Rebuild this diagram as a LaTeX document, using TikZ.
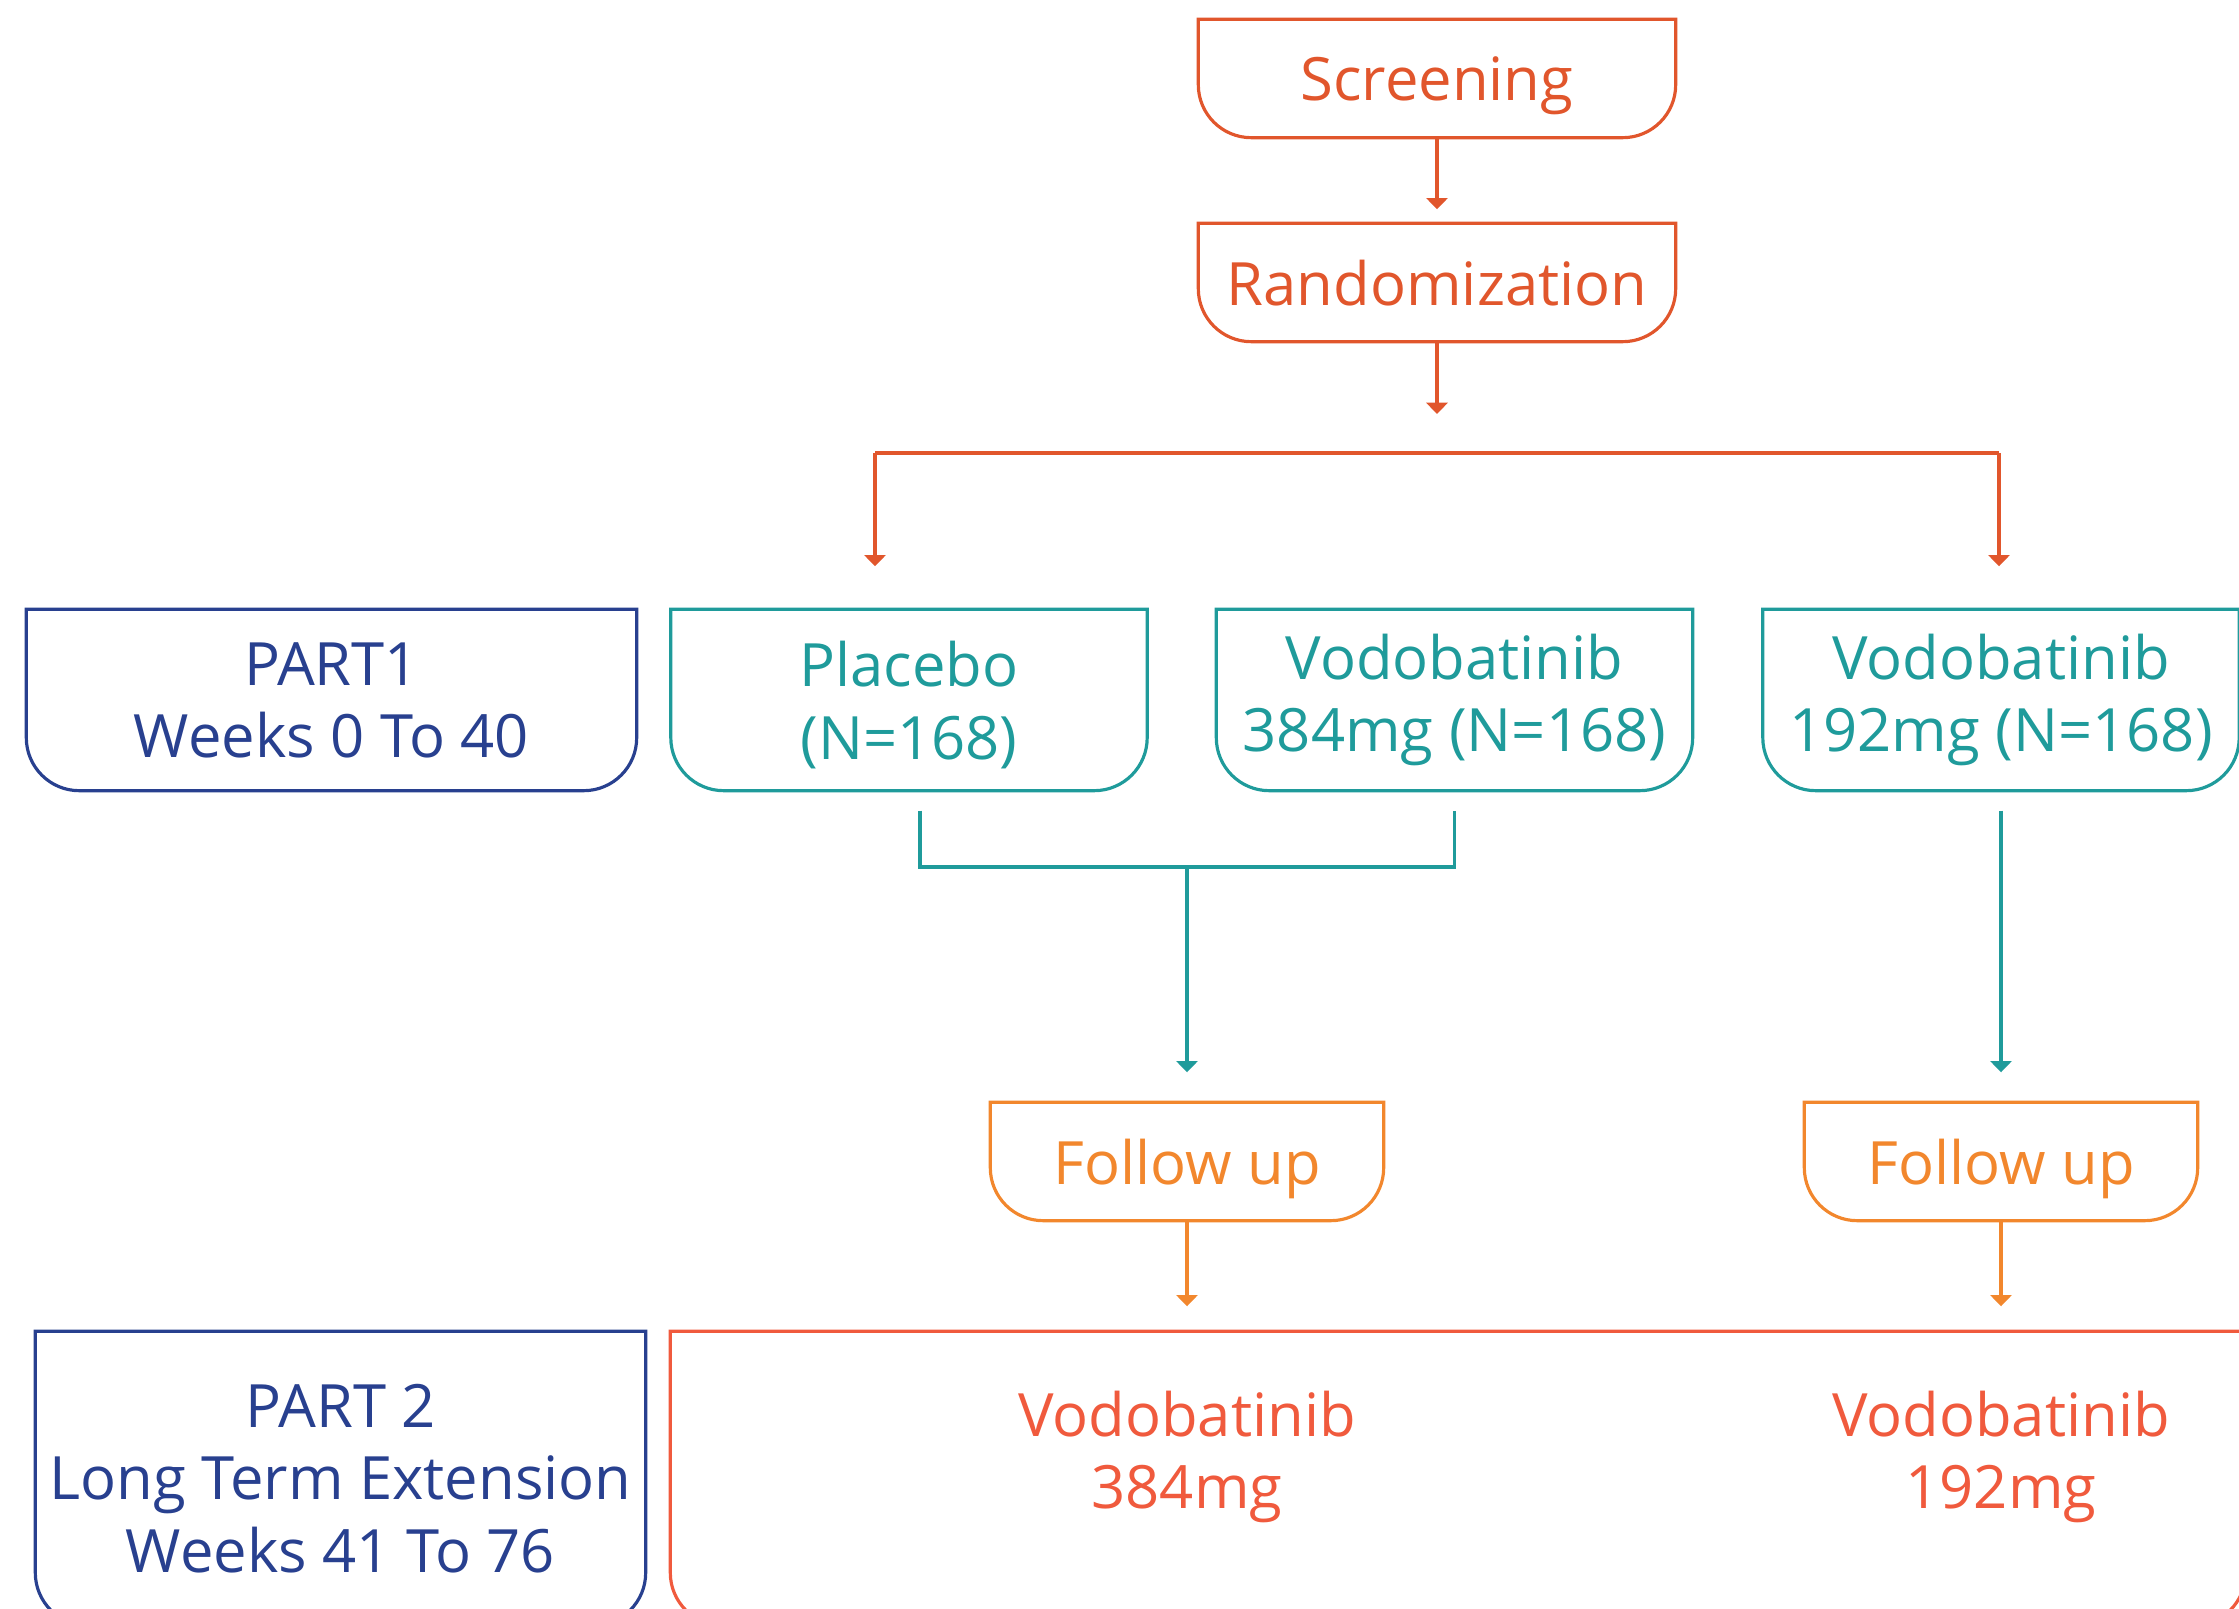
\documentclass[tikz,border=0pt]{standalone}
\usepackage{fontspec}
\setmainfont{Open Sans}
\usetikzlibrary{arrows.meta,positioning}
\definecolor{scrcol}{HTML}{E1562C}
\definecolor{armcol}{HTML}{1F9B9B}
\definecolor{partcol}{HTML}{28408F}
\definecolor{folcol}{HTML}{F2872D}
\definecolor{extcol}{HTML}{F05A3D}
% box with square top and rounded bottom corners
\newcommand{\cupbox}[2]{%
  \draw[#2, line width=0.9pt] (#1.north west) -- (#1.north east)
    -- ([yshift=0.53cm]#1.south east) arc[start angle=0, end angle=-90, radius=0.53cm]
    -- ([xshift=0.53cm]#1.south west) arc[start angle=-90, end angle=-180, radius=0.53cm]
    -- cycle;}

\begin{document}
\begin{tikzpicture}
	\tikzstyle{every node}=[font=\fontsize{17}{20.7}\selectfont, align=center, inner sep=0pt]
	\tikzstyle{stage}=[minimum width=4.76cm, minimum height=1.17cm, text depth=0pt]
	\tikzstyle{arm}=[minimum width=4.75cm, minimum height=1.80cm, text=armcol]
	\tikzstyle{part}=[minimum width=6.09cm, text=partcol]
	\tikzstyle{link}=[line width=0.9pt]
	\tikzstyle{arr}=[link, -{Triangle[width=6pt, length=3.2pt]}]
	\clip (0,0) rectangle (22.39,-16.09);
	\node [stage, text=scrcol] (screen) at (14.37,-0.785) {Screening};
	\node [stage, text=scrcol] (rand) at (14.37,-2.825) {Randomization};
	\node [part, minimum height=1.80cm, text depth=0pt] (part1) at (3.315,-7.00) {PART1\\Weeks 0 To 40};
	\node [arm, text depth=0pt] (placebo) at (9.09,-7.00) {Placebo\\(N=168)};
	\node [arm] (vodoA) at (14.545,-7.00) {Vodobatinib\\384mg (N=168)};
	\node [arm] (vodoB) at (20.01,-7.00) {Vodobatinib\\192mg (N=168)};
	\node [stage, minimum width=3.92cm, text=folcol] (followA) at (11.87,-11.615) {Follow up};
	\node [stage, minimum width=3.92cm, text=folcol] (followB) at (20.01,-11.615) {Follow up};
	\node [part, minimum height=2.93cm] (part2) at (3.405,-14.785) {PART 2\\Long Term Extension\\Weeks 41 To 76};
	\node [minimum width=15.74cm, minimum height=2.93cm] (ext) at (14.58,-14.785) {};
	\node [text=extcol] (extA) at (11.87,-14.57) {Vodobatinib\\384mg};
	\node [text=extcol] (extB) at (20.01,-14.57) {Vodobatinib\\192mg};
	\cupbox{screen}{scrcol}
	\cupbox{rand}{scrcol}
	\cupbox{part1}{partcol}
	\cupbox{placebo}{armcol}
	\cupbox{vodoA}{armcol}
	\cupbox{vodoB}{armcol}
	\cupbox{followA}{folcol}
	\cupbox{followB}{folcol}
	\cupbox{part2}{partcol}
	\cupbox{ext}{extcol}
	\coordinate (split) at (14.37,-4.14);
	\coordinate (topL) at (8.75,-4.53);
	\coordinate (topR) at (19.99,-4.53);
	\coordinate (join) at (11.87,-8.67);
	\draw [arr, scrcol, shorten >=0.14cm] (screen) -- (rand);
	\draw [arr, scrcol] (rand) -- (split);
	\draw [link, scrcol] (topL) -- (topR);
	\draw [arr, scrcol, shorten >=0.43cm] (topL) -- (topL |- placebo.north);
	\draw [arr, scrcol, shorten >=0.43cm] (topR) -- (topR |- vodoB.north);
	\draw [link, armcol] ([xshift=0.11cm, yshift=-0.2cm]placebo.south) |- (join) -| ([yshift=-0.2cm]vodoA.south);
	\draw [arr, armcol, shorten >=0.3cm] (join) -- (followA);
	\draw [arr, armcol, shorten <=0.2cm, shorten >=0.3cm] (vodoB) -- (followB);
	\draw [arr, folcol, shorten >=0.25cm] (followA) -- (followA |- ext.north);
	\draw [arr, folcol, shorten >=0.25cm] (followB) -- (followB |- ext.north);
\end{tikzpicture}
\end{document}
